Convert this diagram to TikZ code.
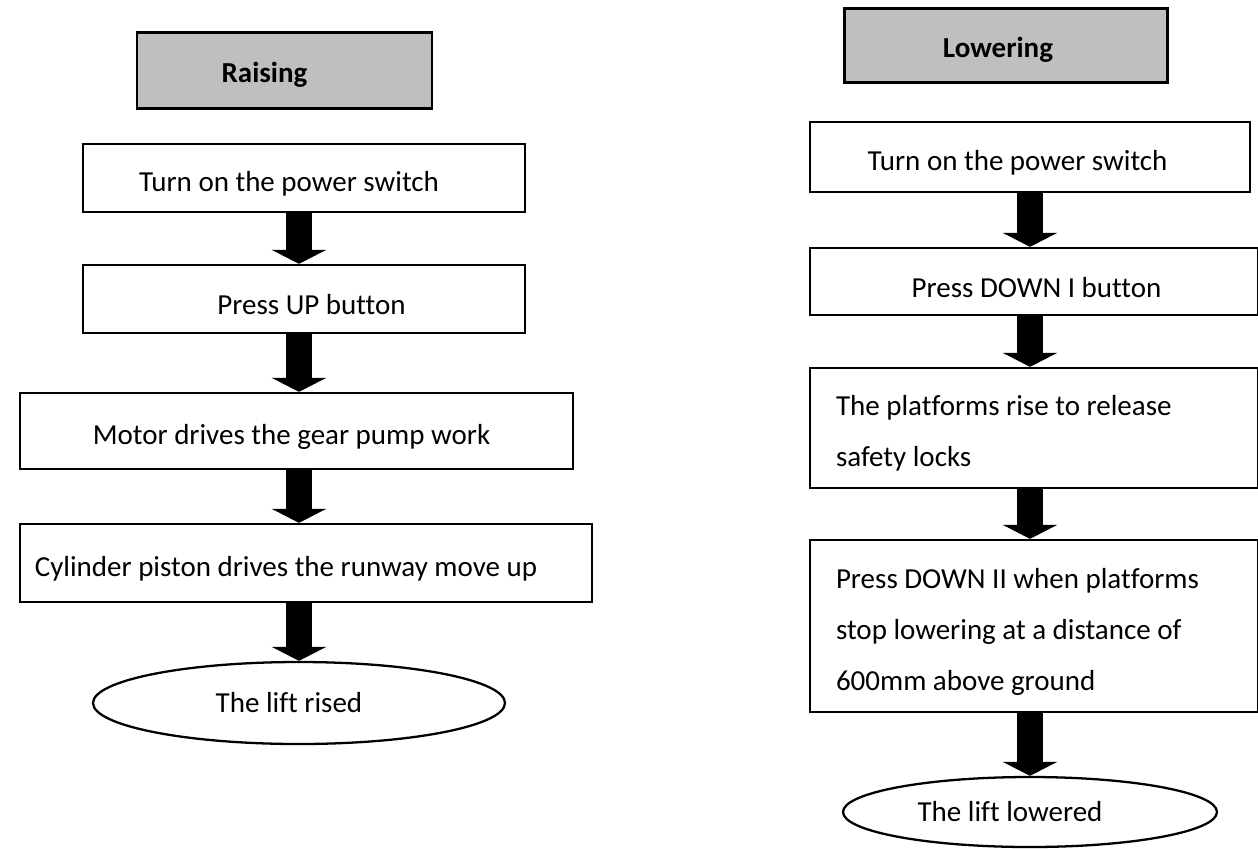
\documentclass[tikz,border=0pt]{standalone}
\usepackage{fontspec}
\setmainfont{Carlito}[Ligatures=NoCommon]
\usetikzlibrary{shapes.geometric,arrows.meta}
\definecolor{headgray}{HTML}{BFBFBF}
\begin{document}
\begin{tikzpicture}[
    font=\fontsize{16.5}{29}\selectfont,
    headbox/.style={draw,line width=1.7pt,fill=headgray,text height=0.58cm,font=\fontsize{16.5}{29}\selectfont\bfseries},
    stepbox/.style={draw,line width=1.3pt,inner sep=0pt,text height=0.63cm},
    endoval/.style={draw,ellipse,line width=1.3pt,inner sep=0pt},
    bigarrow/.style={line width=0.52cm,-{Triangle[width=1.08cm,length=0.28cm]}}
  ]
  \useasboundingbox (0,0) rectangle (25.16,-16.96);
  % raising
  \node[headbox,minimum width=5.9cm,minimum height=1.52cm] at (5.69,-1.40) (rhead) {\hspace*{-0.8cm}Raising};
  \node[stepbox,minimum width=8.84cm,minimum height=1.36cm] at (6.08,-3.56) (r1) {\hspace*{-0.6cm}Turn on the power switch};
  \node[stepbox,minimum width=8.84cm,minimum height=1.36cm] at (6.08,-5.98) (r2) {\hspace*{0.3cm}Press UP button};
  \node[stepbox,minimum width=11.06cm,minimum height=1.52cm] at (5.93,-8.62) (r3) {\hspace*{-0.2cm}Motor drives the gear pump work};
  \node[stepbox,minimum width=11.44cm,minimum height=1.56cm] at (6.12,-11.26) (r4) {\hspace*{-0.8cm}Cylinder piston drives the runway move up};
  \node[endoval,minimum width=8.24cm,minimum height=1.64cm] at (5.98,-14.06) (r5) {\hspace*{-0.4cm}The lift rised};
  \draw[bigarrow] (r1.south -| r5) -- (r2.north -| r5);
  \draw[bigarrow] (r2.south -| r5) -- (r3.north -| r5);
  \draw[bigarrow] (r3.south -| r5) -- (r4.north -| r5);
  \draw[bigarrow] (r4.south -| r5) -- (r5.north);
  % lowering
  \node[headbox,minimum width=6.46cm,minimum height=1.48cm] at (20.11,-0.90) (lhead) {\hspace*{-0.3cm}Lowering};
  \node[stepbox,minimum width=8.80cm,minimum height=1.40cm] at (20.60,-3.14) (l1) {\hspace*{-0.5cm}Turn on the power switch};
  \node[stepbox,minimum width=8.96cm,minimum height=1.34cm] at (20.68,-5.63) (l2) {\hspace*{0.1cm}Press DOWN I button};
  \node[stepbox,minimum width=8.96cm,minimum height=2.40cm,text width=7.92cm,align=flush left] at (20.68,-8.56) (l3) {The platforms rise to release\\safety locks};
  \node[stepbox,minimum width=8.96cm,minimum height=3.44cm,text width=7.92cm,align=flush left] at (20.68,-12.52) (l4) {Press DOWN II when platforms\\stop lowering at a distance of\\600mm above ground};
  \node[endoval,minimum width=7.48cm,minimum height=1.40cm] at (20.60,-16.24) (l5) {\hspace*{-0.8cm}The lift lowered};
  \draw[bigarrow] (l1.south -| l5) -- (l2.north -| l5);
  \draw[bigarrow] (l2.south -| l5) -- (l3.north -| l5);
  \draw[bigarrow] (l3.south -| l5) -- (l4.north -| l5);
  \draw[bigarrow] (l4.south -| l5) -- (l5.north);
\end{tikzpicture}
\end{document}
